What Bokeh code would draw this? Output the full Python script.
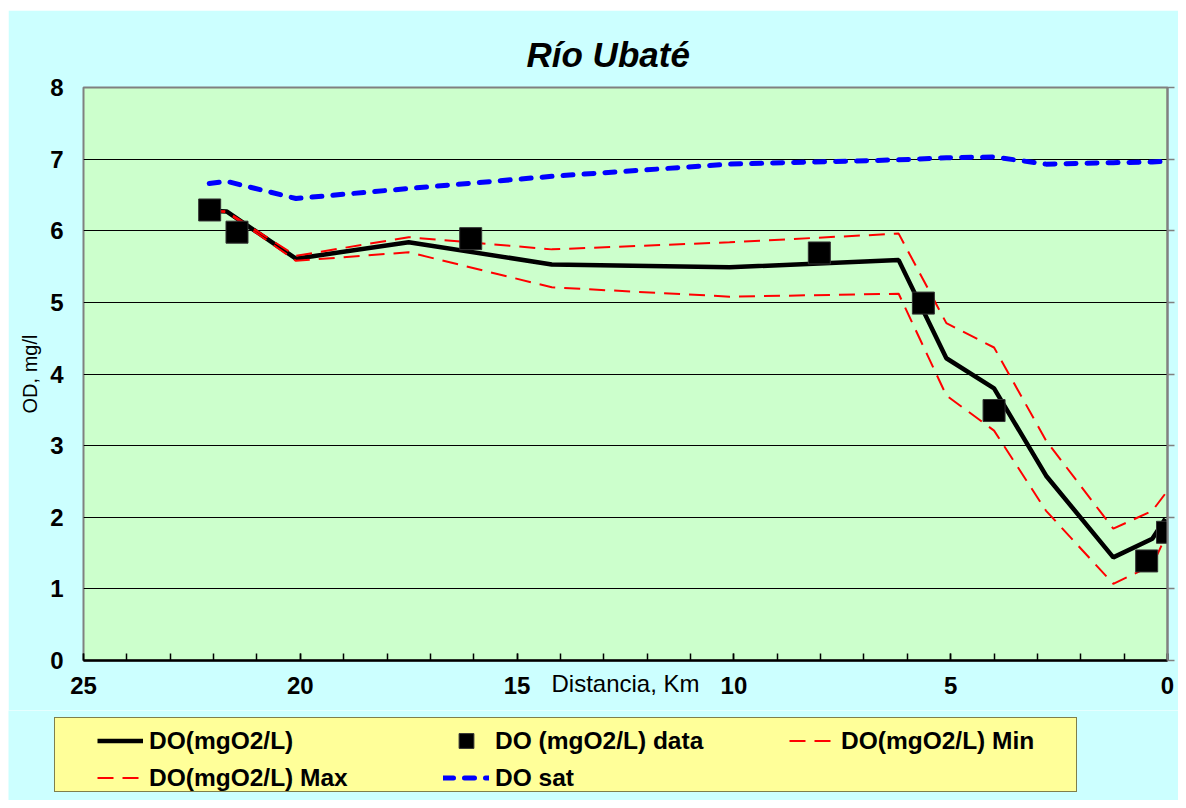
from bokeh.plotting import figure
from bokeh.layouts import column
from bokeh.models import Range1d, FixedTicker, LinearAxis, Legend, LegendItem
from bokeh.embed import file_html
from bokeh.resources import INLINE

# ---- data (distance in km from the mouth, DO in mg/l) ----
km_model = [22.1, 21.7, 20.1, 17.5, 14.2, 10.1, 6.2, 5.1, 4.0, 2.8, 1.25, 0.35, 0.05]
do_model = [6.28, 6.27, 5.61, 5.84, 5.53, 5.49, 5.59, 4.22, 3.80, 2.58, 1.44, 1.70, 1.98]
do_min = [6.28, 6.26, 5.58, 5.70, 5.21, 5.08, 5.12, 3.70, 3.21, 2.09, 1.07, 1.33, 1.72]
do_max = [6.28, 6.27, 5.65, 5.91, 5.74, 5.84, 5.96, 4.71, 4.37, 3.07, 1.84, 2.09, 2.33]
do_sat = [6.66, 6.69, 6.45, 6.59, 6.76, 6.93, 6.99, 7.02, 7.03, 6.93, 6.95, 6.96, 6.97]
km_data = [22.09, 21.46, 16.07, 8.03, 5.63, 4.0, 0.48, 0.0]
do_data = [6.29, 5.98, 5.89, 5.69, 4.99, 3.49, 1.39, 1.79]

x_ticks = [0, 5, 10, 15, 20, 25]
x_minor_ticks = list(range(26))
y_ticks = [0, 1, 2, 3, 4, 5, 6, 7, 8]
grid_ticks = [1, 2, 3, 4, 5, 6, 7]

title_text = "Río Ubaté"
xlabel_text = "Distancia, Km"
xlabel_pos = 12.5
ylabel_text = "OD, mg/l"
legend_labels = ["DO(mgO2/L)", "DO (mgO2/L) data", "DO(mgO2/L) Min", "DO(mgO2/L) Max", "DO sat"]

FONT = "Liberation Sans"
CYAN = "#CCFFFF"

# ---- main chart ----
p = figure(frame_width=1084, frame_height=573,
           x_range=Range1d(25, 0), y_range=Range1d(0, 8),
           output_backend="svg", toolbar_location=None,
           min_border_left=75, min_border_right=11, min_border_top=77, min_border_bottom=50,
           background_fill_color="#CCFFCC", border_fill_color=CYAN,
           outline_line_color="#808080", outline_line_width=2)

p.title.text = title_text
p.title.align = "left"
p.title.offset = 443
p.title.standoff = 28
p.title.text_font = FONT
p.title.text_font_size = "35px"
p.title.text_font_style = "bold italic"
p.title.text_color = "black"

# x axis
xa = p.xaxis[0]
xa.ticker = FixedTicker(ticks=x_ticks, minor_ticks=x_minor_ticks)
xa.axis_line_color = "black"
xa.axis_line_width = 2.5
xa.major_tick_in = 7
xa.major_tick_out = 0
xa.minor_tick_in = 7
xa.minor_tick_out = 0
xa.major_tick_line_color = "black"
xa.minor_tick_line_color = "black"
xa.major_tick_line_width = 1.5
xa.minor_tick_line_width = 1.5
xa.major_label_text_font = FONT
xa.major_label_text_font_size = "24px"
xa.major_label_text_font_style = "bold"
xa.major_label_text_color = "black"
xa.major_label_standoff = 16

# x axis title, on the same line as the tick labels
xa2 = LinearAxis(ticker=FixedTicker(ticks=[xlabel_pos]),
                 major_label_overrides={xlabel_pos: xlabel_text},
                 axis_line_color=None, major_tick_line_color=None, minor_tick_line_color=None,
                 major_tick_in=0, major_tick_out=0, minor_tick_in=0, minor_tick_out=0,
                 major_label_standoff=-27, major_label_text_font=FONT,
                 major_label_text_font_size="24px", major_label_text_font_style="normal",
                 major_label_text_color="black")
p.add_layout(xa2, "below")

# y axis
ya = p.yaxis[0]
ya.ticker = FixedTicker(ticks=y_ticks)
ya.axis_line_color = None
ya.major_tick_in = 0
ya.major_tick_out = 0
ya.minor_tick_line_color = None
ya.major_label_text_font = FONT
ya.major_label_text_font_size = "24px"
ya.major_label_text_font_style = "bold"
ya.major_label_text_color = "black"
ya.major_label_standoff = 20
ya.axis_label = ylabel_text
ya.axis_label_standoff = 6
ya.axis_label_text_font = FONT
ya.axis_label_text_font_size = "20px"
ya.axis_label_text_font_style = "normal"
ya.axis_label_text_color = "black"

# right-side tick marks (no labels)
ra = LinearAxis(ticker=FixedTicker(ticks=y_ticks), major_tick_out=7, major_tick_in=0,
                major_tick_line_color="#808080", major_tick_line_width=1.5,
                axis_line_color="#808080", axis_line_width=2,
                minor_tick_line_color=None, major_label_text_font_size="1px",
                major_label_text_color=None, major_label_standoff=0)
p.add_layout(ra, "right")

p.xgrid.grid_line_color = None
p.ygrid.ticker = FixedTicker(ticks=grid_ticks)
p.ygrid.grid_line_color = "black"
p.ygrid.grid_line_width = 1

# series styles
S_MAIN = dict(line_color="black", line_width=4.5)
S_RED = dict(line_color="#FF0000", line_width=2, line_dash="16 9")
S_SAT = dict(line_color="#0000FF", line_width=5, line_dash="10 11", line_cap="round")
S_DATA = dict(marker="square", fill_color="black", line_color="#333333", line_width=1)

p.line(km_model, do_model, **S_MAIN)
p.line(km_model, do_min, **S_RED)
p.line(km_model, do_max, **S_RED)
p.line(km_model, do_sat, **S_SAT)
p.scatter(km_data, do_data, size=22, **S_DATA)

# ---- legend strip (keys use the same styles; their points lie outside the view) ----
q = figure(width=1170, height=90, x_axis_type=None, y_axis_type=None,
           x_range=Range1d(0, 1), y_range=Range1d(0, 1),
           output_backend="svg", toolbar_location=None, min_border=0,
           min_border_left=0, min_border_right=0, min_border_top=0, min_border_bottom=0,
           background_fill_color=CYAN, border_fill_color=CYAN, outline_line_color=None)
for fig in (p, q):
    if "frame_align" in fig.properties():
        fig.frame_align = False

off_x = [-10, -9]
off_y = [-10, -9]
k_main = q.line(off_x, off_y, **S_MAIN)
k_data = q.scatter(off_x[:1], off_y[:1], size=15, **S_DATA)
k_min = q.line(off_x, off_y, **S_RED)
k_max = q.line(off_x, off_y, **S_RED)
k_sat = q.line(off_x, off_y, **S_SAT)
k_bg = q.line(off_x, off_y, line_alpha=0)

bg = Legend(items=[LegendItem(label=" ", renderers=[k_bg])], location=(46, 8),
            padding=0, margin=0, spacing=0, glyph_width=1021, glyph_height=73,
            label_width=0, label_height=73, label_standoff=0, label_text_font_size="1px",
            label_text_color=None,
            background_fill_color="#FFFF99", background_fill_alpha=1,
            border_line_color="black", border_line_width=1)
q.add_layout(bg)

leg = Legend(items=[LegendItem(label=legend_labels[0], renderers=[k_main]),
                    LegendItem(label=legend_labels[1], renderers=[k_data]),
                    LegendItem(label=legend_labels[2], renderers=[k_min]),
                    LegendItem(label=legend_labels[3], renderers=[k_max]),
                    LegendItem(label=legend_labels[4], renderers=[k_sat])],
             orientation="horizontal", ncols=3, location=(89, 4),
             padding=0, margin=0, spacing=0,
             glyph_width=46, glyph_height=37, label_height=37, label_width=294,
             label_standoff=6, background_fill_alpha=0, border_line_color=None,
             label_text_font=FONT, label_text_font_style="bold",
             label_text_font_size="24.5px", label_text_color="black")
q.add_layout(leg)

layout = column(p, q, spacing=0, margin=(10, 0, 0, 8))
open("out.html", "w").write(file_html(layout, INLINE))
